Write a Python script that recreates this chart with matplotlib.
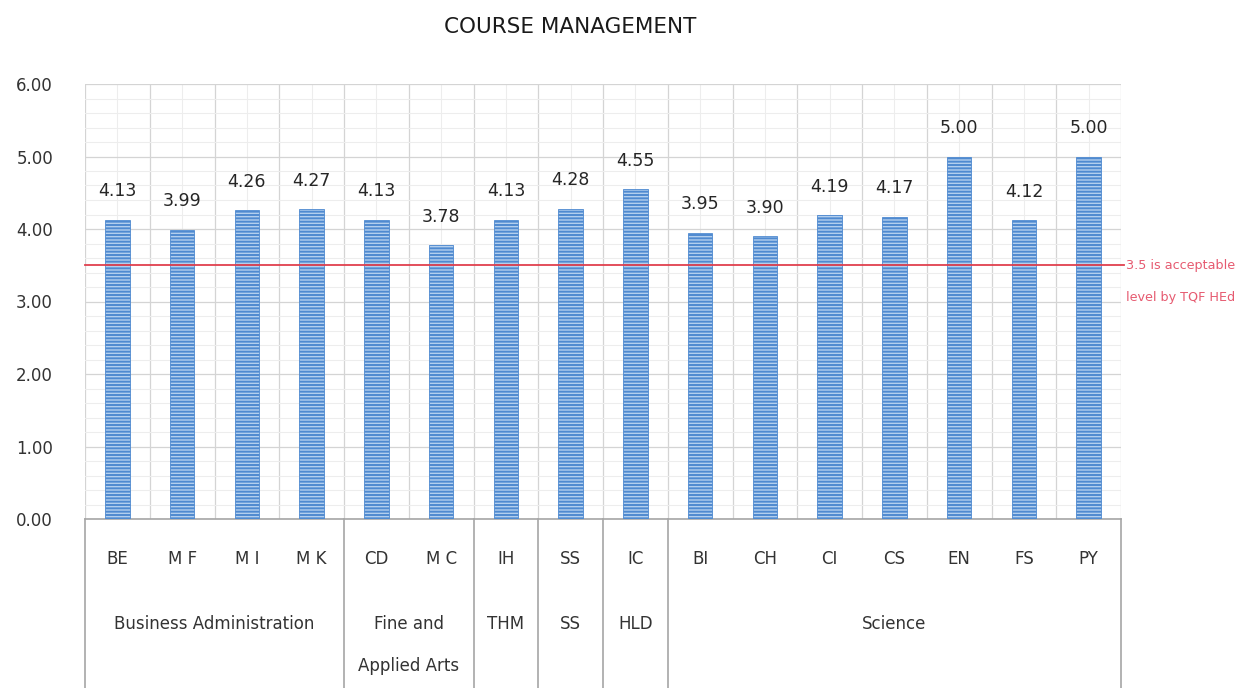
import matplotlib
matplotlib.use('agg')
import matplotlib.pyplot as plt
import matplotlib.transforms as mtransforms
from matplotlib.ticker import MultipleLocator, FixedLocator
import numpy as np

codes = ['BE', 'M F', 'M I', 'M K', 'CD', 'M C', 'IH', 'SS', 'IC',
         'BI', 'CH', 'CI', 'CS', 'EN', 'FS', 'PY']
scores = [4.13, 3.99, 4.26, 4.27, 4.13, 3.78, 4.13, 4.28, 4.55,
          3.95, 3.90, 4.19, 4.17, 5.00, 4.12, 5.00]
groups = [['Business Administration'], ['Fine and', 'Applied Arts'],
          ['THM'], ['SS'], ['HLD'], ['Science']]
group_sizes = [4, 2, 1, 1, 1, 7]
threshold = 3.5
threshold_note = ['3.5 is acceptable', 'level by TQF HEd']

plt.rcParams['font.family'] = ['DejaVu Sans']
plt.rcParams['hatch.linewidth'] = 1.4

fig = plt.figure(figsize=(12.46, 6.88), dpi=100)
ax = fig.add_axes([85/1246, 1 - 519/688, (1121 - 85)/1246, (519 - 84)/688])

x = np.arange(len(codes))
ax.bar(x, scores, width=0.38, facecolor='#b3cfee', edgecolor='#4f8ad0',
       hatch='-----', linewidth=0.6, zorder=3)

for xi, v in zip(x, scores):
    ax.annotate(f'{v:.2f}', (xi, v), xytext=(0, 14), textcoords='offset points',
                ha='center', va='bottom', fontsize=12.5, color='#262626')

ax.set_xlim(-0.5, len(codes) - 0.5)
ax.set_ylim(0, 6)
ax.yaxis.set_major_locator(MultipleLocator(1))
ax.yaxis.set_minor_locator(MultipleLocator(0.2))
ax.xaxis.set_major_locator(FixedLocator(np.arange(-0.5, len(codes), 1.0)))
ax.xaxis.set_minor_locator(FixedLocator(x))
ax.grid(which='major', color='#d4d4d4', linewidth=0.9, zorder=0)
ax.grid(which='minor', color='#ededed', linewidth=0.8, zorder=0)
ax.set_axisbelow(True)
ax.set_yticklabels([f'{t:.2f}' for t in ax.get_yticks()])
ax.tick_params(axis='y', which='both', length=0, pad=23, labelsize=12, labelcolor='#333333')
ax.tick_params(axis='x', which='both', length=0, labelbottom=False)
for s in ['left', 'right', 'top']:
    ax.spines[s].set_visible(False)
ax.spines['bottom'].set_color('#a6a6a6')
ax.spines['bottom'].set_linewidth(1.2)

# acceptable level line
ax.plot([-0.5, len(codes) - 0.45], [threshold, threshold], color='#e0404e',
        linewidth=1.3, clip_on=False, zorder=4)
ax.text(len(codes) - 0.43, threshold, threshold_note[0], fontsize=9.2, color='#e65a70',
        ha='left', va='center')
ax.text(len(codes) - 0.43, threshold - 0.44, threshold_note[1], fontsize=9.2, color='#e65a70',
        ha='left', va='center')

# category table under the axis
trans = mtransforms.blended_transform_factory(ax.transData, ax.transAxes)
for xi, c in zip(x, codes):
    ax.text(xi, -0.092, c, transform=trans, ha='center', va='center',
            fontsize=12, color='#333333')

bounds = np.concatenate([[0], np.cumsum(group_sizes)]) - 0.5
for b in bounds:
    ax.plot([b, b], [0, -0.42], transform=trans, color='#a6a6a6', linewidth=1.2,
            clip_on=False)
for g, lo, hi in zip(groups, bounds[:-1], bounds[1:]):
    for k, line in enumerate(g):
        ax.text((lo + hi) / 2, -0.241 - 0.097 * k, line, transform=trans,
                ha='center', va='center', fontsize=12, color='#333333')

fig.text(570/1246, 1 - 27/688, 'COURSE MANAGEMENT', ha='center', va='center',
         fontsize=15.5, color='#1a1a1a')

fig.savefig('out.png', dpi=100)
